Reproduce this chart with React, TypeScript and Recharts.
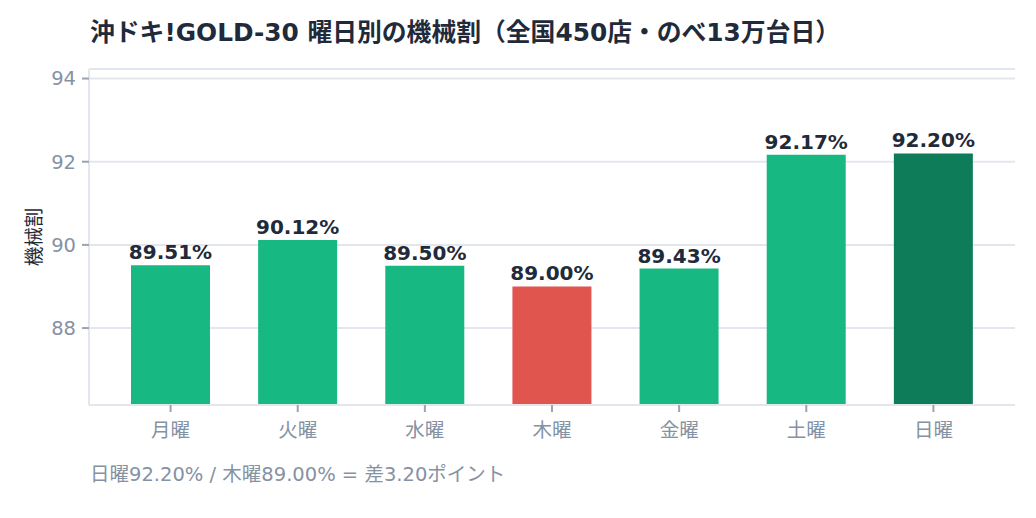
import React from 'react';
import { BarChart, Bar, XAxis, YAxis, CartesianGrid, LabelList, Cell } from 'recharts';

const categories = ['月曜', '火曜', '水曜', '木曜', '金曜', '土曜', '日曜'];
const values = [89.51, 90.12, 89.5, 89.0, 89.43, 92.17, 92.2];
const barColors = ['#17b882', '#17b882', '#17b882', '#e0554e', '#17b882', '#17b882', '#0e7c58'];
const yTicks = [88, 90, 92, 94];
const yDomain = [86.15, 94.23];
const title = '沖ドキ!GOLD-30 曜日別の機械割（全国450店・のべ13万台日）';
const yLabel = '機械割';
const footer = '日曜92.20% / 木曜89.00% = 差3.20ポイント';

const data = categories.map((c, i) => ({ name: c, value: values[i] }));

const FONT = '"DejaVu Sans", "Noto Sans CJK JP", sans-serif';

const YLabel = (props: any) => {
  const vb = props.viewBox || {};
  const cy = (vb.y || 0) + (vb.height || 0) / 2;
  const x = 41;
  return (
    <text
      x={x}
      y={cy}
      transform={`rotate(-90 ${x} ${cy})`}
      textAnchor="middle"
      fill="#1f2937"
      fontSize={19.5}
      fontFamily={FONT}
    >
      {yLabel}
    </text>
  );
};

export default function App() {
  return (
    <div style={{ position: 'absolute', left: 0, top: 0, width: 1036, height: 518, background: '#fff', fontFamily: FONT }}>
      <div style={{ position: 'absolute', left: 90, top: 20, fontSize: 24.8, lineHeight: '26px', fontWeight: 'bold', color: '#1f2a3a', whiteSpace: 'nowrap' }}>
        {title}
      </div>
      <BarChart
        width={1036}
        height={518}
        data={data}
        margin={{ top: 69, right: 21, bottom: 83, left: 0 }}
      >
        <CartesianGrid vertical={false} stroke="#e3e7ed" strokeWidth={2} />
        <XAxis
          dataKey="name"
          padding={{ left: 18, right: 18 }}
          axisLine={{ stroke: '#e3e7ed', strokeWidth: 2 }}
          tickLine={{ stroke: '#9aa3b0', strokeWidth: 2 }}
          tickSize={7}
          tickMargin={11}
          tick={{ fill: '#8592a3', fontSize: 19.5, fontFamily: FONT }}
        />
        <YAxis
          width={89}
          domain={yDomain}
          ticks={yTicks}
          allowDataOverflow
          axisLine={{ stroke: '#e3e7ed', strokeWidth: 2 }}
          tickLine={{ stroke: '#9aa3b0', strokeWidth: 2 }}
          tickSize={7}
          tickMargin={6}
          tick={{ fill: '#8592a3', fontSize: 19.5, fontFamily: FONT }}
          label={{ content: YLabel }}
        />
        <Bar dataKey="value" barSize={79} isAnimationActive={false}>
          {data.map((d, i) => (
            <Cell key={d.name} fill={barColors[i]} />
          ))}
          <LabelList
            dataKey="value"
            position="top"
            offset={6}
            formatter={(v: any) => `${Number(v).toFixed(2)}%`}
            style={{ fill: '#1f2a3a', fontSize: 20, fontWeight: 'bold', fontFamily: FONT }}
          />
        </Bar>
      </BarChart>
      <div style={{ position: 'absolute', left: 90, top: 465, fontSize: 19.5, lineHeight: '20px', color: '#8592a3', whiteSpace: 'nowrap' }}>
        {footer}
      </div>
    </div>
  );
}
